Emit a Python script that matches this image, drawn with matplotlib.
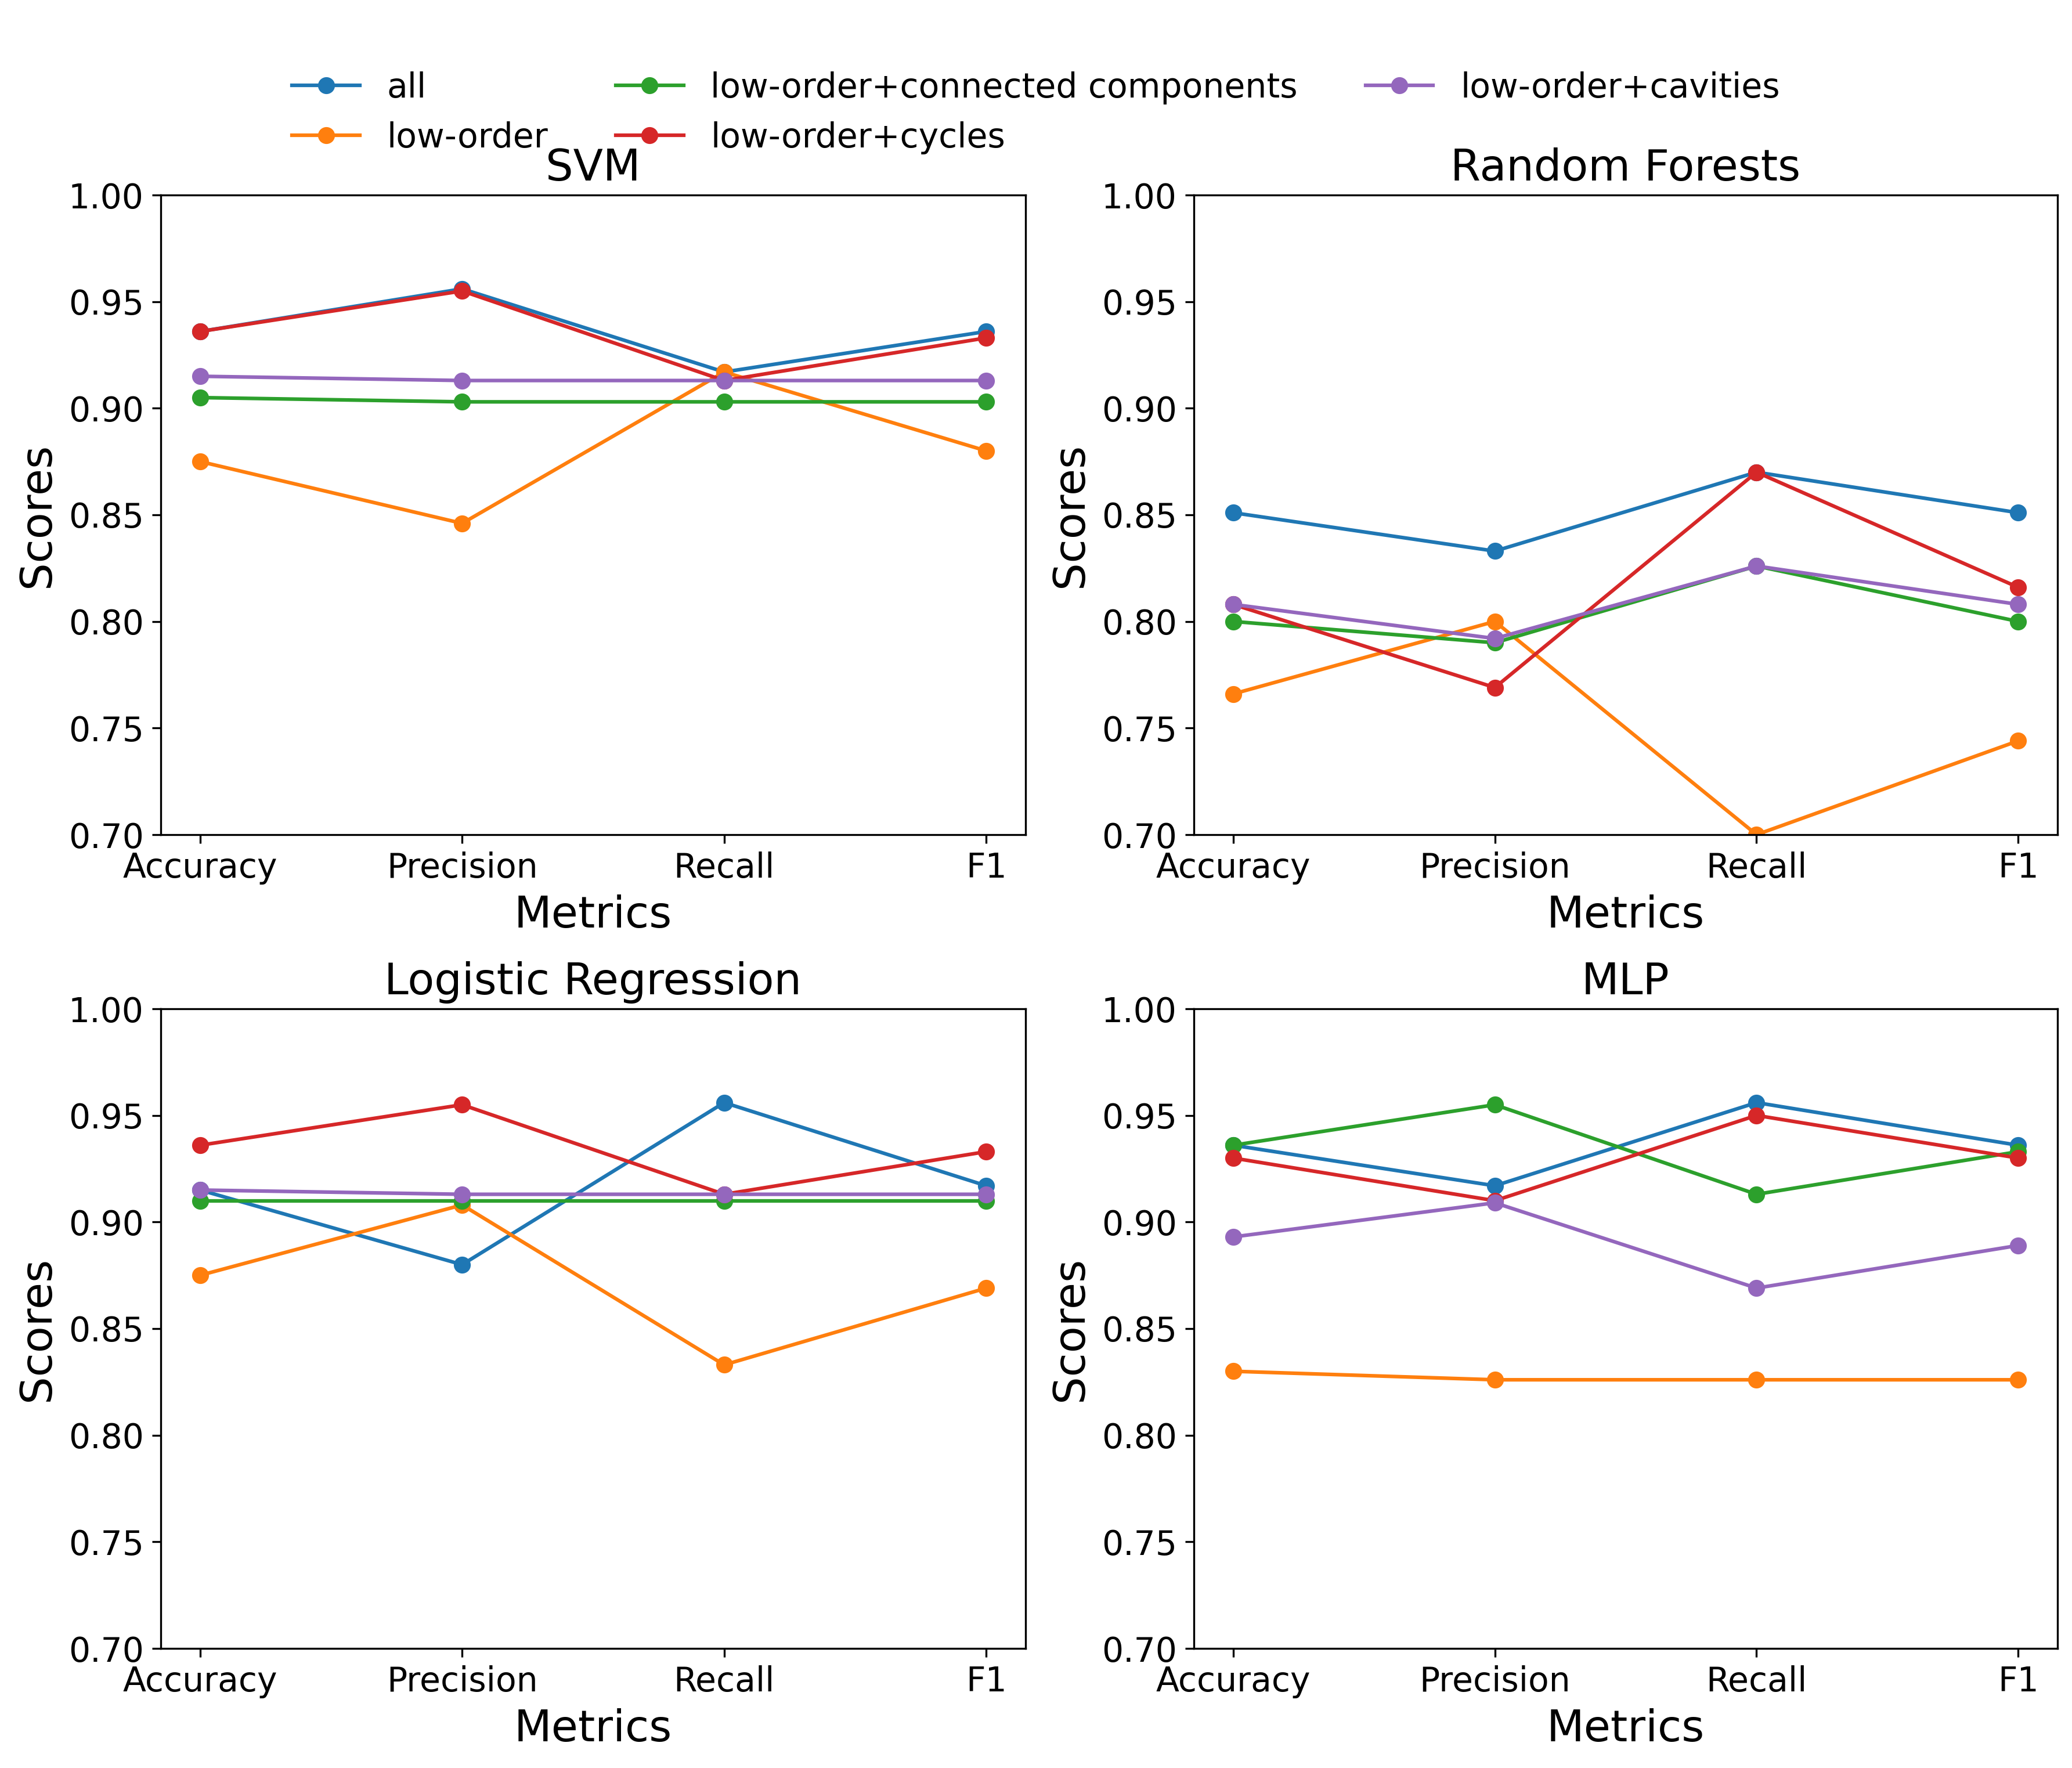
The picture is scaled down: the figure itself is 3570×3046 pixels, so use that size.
import matplotlib
matplotlib.use("Agg")
import matplotlib.pyplot as plt
import numpy as np

metrics = ["Accuracy", "Precision", "Recall", "F1"]
series_names = ["all", "low-order", "low-order+connected components",
                "low-order+cycles", "low-order+cavities"]
colors = ["#1f77b4", "#ff7f0e", "#2ca02c", "#d62728", "#9467bd"]

svm_all = [0.936, 0.956, 0.917, 0.936]
svm_low = [0.875, 0.846, 0.917, 0.880]
svm_cc = [0.905, 0.903, 0.903, 0.903]
svm_cyc = [0.936, 0.955, 0.913, 0.933]
svm_cav = [0.915, 0.913, 0.913, 0.913]

rf_all = [0.851, 0.833, 0.870, 0.851]
rf_low = [0.766, 0.800, 0.700, 0.744]
rf_cc = [0.800, 0.790, 0.826, 0.800]
rf_cyc = [0.808, 0.769, 0.870, 0.816]
rf_cav = [0.808, 0.792, 0.826, 0.808]

lr_all = [0.915, 0.880, 0.956, 0.917]
lr_low = [0.875, 0.908, 0.833, 0.869]
lr_cc = [0.910, 0.910, 0.910, 0.910]
lr_cyc = [0.936, 0.955, 0.913, 0.933]
lr_cav = [0.915, 0.913, 0.913, 0.913]

mlp_all = [0.936, 0.917, 0.956, 0.936]
mlp_low = [0.830, 0.826, 0.826, 0.826]
mlp_cc = [0.936, 0.955, 0.913, 0.933]
mlp_cyc = [0.930, 0.910, 0.950, 0.930]
mlp_cav = [0.893, 0.909, 0.869, 0.889]

titles = ["SVM", "Random Forests", "Logistic Regression", "MLP"]
panels = [
    [svm_all, svm_low, svm_cc, svm_cyc, svm_cav],
    [rf_all, rf_low, rf_cc, rf_cyc, rf_cav],
    [lr_all, lr_low, lr_cc, lr_cyc, lr_cav],
    [mlp_all, mlp_low, mlp_cc, mlp_cyc, mlp_cav],
]

fig = plt.figure(figsize=(11.9, 3046 / 300), dpi=300)
W, H = 3570, 3046
boxes = [
    (277, 336, 1767, 1438),
    (2057, 336, 3545, 1438),
    (277, 1738, 1767, 2840),
    (2057, 1738, 3545, 2840),
]
axes = []
for (x0, y0, x1, y1) in boxes:
    ax = fig.add_axes([x0 / W, 1 - y1 / H, (x1 - x0) / W, (y1 - y0) / H])
    axes.append(ax)

for ax, title, data in zip(axes, titles, panels):
    for name, vals, c in zip(series_names, data, colors):
        ax.plot(metrics, vals, marker="o", color=c, label=name)
    ax.set_title(title, fontsize=18)
    ax.set_xlabel("Metrics", fontsize=18)
    ax.set_ylabel("Scores", fontsize=18)
    ax.set_ylim(0.70, 1.00)
    ax.set_yticks([0.70, 0.75, 0.80, 0.85, 0.90, 0.95, 1.00])
    ax.tick_params(labelsize=14)

handles, labels = axes[0].get_legend_handles_labels()
fig.legend(handles, labels, loc="upper center", ncol=3, fontsize=14,
           frameon=False, bbox_to_anchor=(0.5, 0.977))

fig.savefig("out.png", dpi=300)
